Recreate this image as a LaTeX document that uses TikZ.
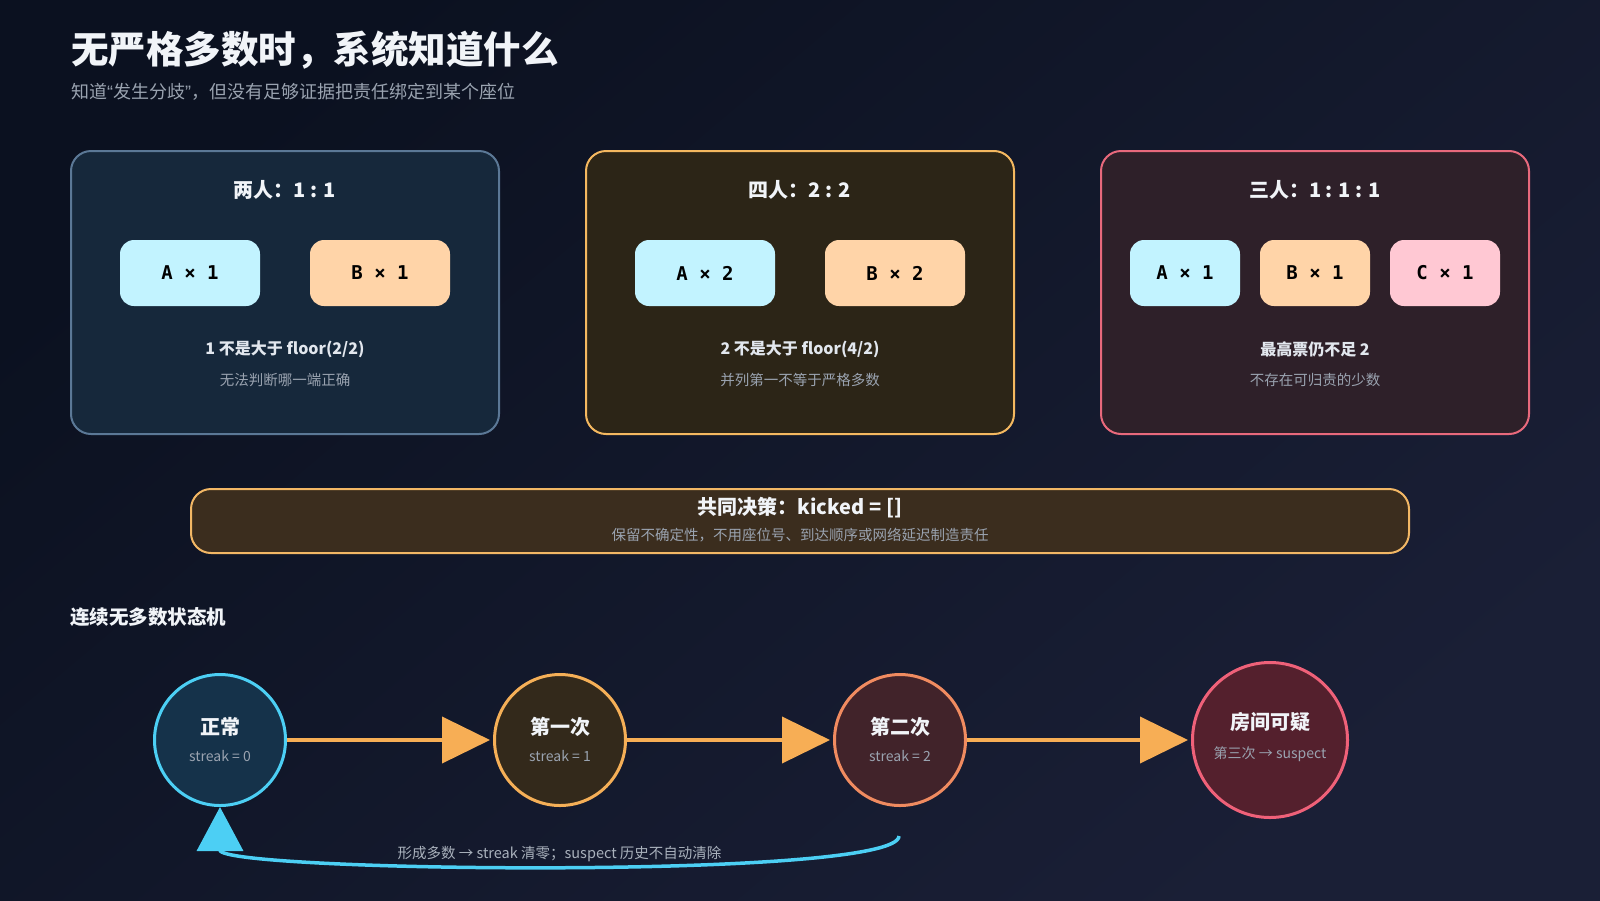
\documentclass[tikz,border=0pt]{standalone}
\usepackage{fontspec}
\setmainfont{Noto Sans CJK SC}
\setmonofont{DejaVu Sans Mono}
\newfontfamily\latinfont{Liberation Sans}
\usetikzlibrary{arrows.meta}

\definecolor{bgtop}{HTML}{0B1120}
\definecolor{bgbot}{HTML}{1A1F36}
\definecolor{pairfill}{HTML}{16283B}
\definecolor{pairline}{HTML}{5B7896}
\definecolor{quadfill}{HTML}{2C2517}
\definecolor{quadline}{HTML}{F4B860}
\definecolor{trifill}{HTML}{2E2029}
\definecolor{triline}{HTML}{E8697C}
\definecolor{chipA}{HTML}{C2F3FF}
\definecolor{chipB}{HTML}{FFD4A8}
\definecolor{chipC}{HTML}{FFC8D3}
\definecolor{barfill}{HTML}{3B2D1E}
\definecolor{barline}{HTML}{F2B765}
\definecolor{txt}{HTML}{F1F4F8}
\definecolor{soft}{HTML}{E2E7EE}
\definecolor{muted}{HTML}{9AA3B0}
\definecolor{fillA}{HTML}{15324A}
\definecolor{lineA}{HTML}{4CCFF4}
\definecolor{fillB}{HTML}{33291B}
\definecolor{lineB}{HTML}{F5AF57}
\definecolor{fillC}{HTML}{41232A}
\definecolor{lineC}{HTML}{F08B60}
\definecolor{fillD}{HTML}{54202D}
\definecolor{lineD}{HTML}{EF6179}
\definecolor{flowcol}{HTML}{F7AE55}

\tikzset{
  txtnode/.style={inner sep=0pt, text=txt},
  headline/.style={txtnode, anchor=west, font=\fontsize{37.5}{40}\selectfont\bfseries},
  subhead/.style={txtnode, anchor=west, text=muted, font=\fontsize{18}{20}\selectfont},
  card/.style={line width=2pt, rounded corners=20pt, minimum width=428pt, minimum height=283pt},
  cardtitle/.style={txtnode, font=\fontsize{20}{22}\selectfont\bfseries},
  chip/.style={rounded corners=14pt, minimum width=140pt, minimum height=66pt, text=black,
    font=\fontsize{19}{21}\ttfamily\bfseries},
  verdict/.style={txtnode, text=soft, font=\fontsize{16}{18}\selectfont\bfseries},
  reason/.style={txtnode, text=muted, font=\fontsize{14.5}{16}\selectfont},
  decision/.style={fill=barfill, draw=barline, line width=2pt, rounded corners=20pt,
    minimum width=1218pt, minimum height=64pt},
  state/.style={circle, line width=3pt, minimum size=131pt},
  stitle/.style={txtnode, font=\fontsize{20}{22}\selectfont\bfseries},
  ssub/.style={txtnode, text=muted, font=\fontsize{14}{16}\selectfont},
  flow/.style={draw=flowcol, line width=4pt, -{Triangle[length=48pt,width=46pt]}, shorten >=3pt},
  backflow/.style={draw=lineA, line width=3.5pt, -{Triangle[length=44pt,width=46pt]}},
  note/.style={txtnode, text=muted!85, font=\fontsize{14.5}{16}\selectfont}
}

\begin{document}
\begin{tikzpicture}[x=1pt,y=-1pt]
  \useasboundingbox (0,0) rectangle (1600,900);
  \shade[top color=bgtop, bottom color=bgbot, shading angle=40] (0,0) rectangle (1600,900);

  \node[headline] (title) at (71,50) {无严格多数时，系统知道什么};
  \node[subhead] (subtitle) at (71,92) {知道{\latinfont “}发生分歧{\latinfont ”}，但没有足够证据把责任绑定到某个座位};

  \node[card, fill=pairfill, draw=pairline] (pairCard) at (285,292.5) {};
  \node[card, fill=quadfill, draw=quadline] (quadCard) at (800,292.5) {};
  \node[card, fill=trifill, draw=triline] (triCard) at (1315,292.5) {};

  \node[cardtitle] (pairTitle) at (285,190) {两人：1 : 1};
  \node[cardtitle] (quadTitle) at (800,190) {四人：2 : 2};
  \node[cardtitle] (triTitle) at (1315,190) {三人：1 : 1 : 1};

  \foreach \n/\x/\c/\t in {pa/190/chipA/A × 1, pb/380/chipB/B × 1, qa/705/chipA/A × 2, qb/895/chipB/B × 2}
    \node[chip, fill=\c] (\n) at (\x,273) {\t};
  \foreach \n/\x/\c/\t in {ta/1185/chipA/A × 1, tb/1315/chipB/B × 1, tc/1445/chipC/C × 1}
    \node[chip, fill=\c, minimum width=110pt] (\n) at (\x,273) {\t};

  \foreach \n/\x/\a/\b in {pair/285/{1 不是大于 floor(2/2)}/无法判断哪一端正确,
      quad/800/{2 不是大于 floor(4/2)}/并列第一不等于严格多数,
      tri/1315/最高票仍不足 2/不存在可归责的少数} {
    \node[verdict] (\n Verdict) at (\x,349) {\a};
    \node[reason] (\n Reason) at (\x,380) {\b};
  }

  \node[decision] (decision) at (800,521) {};
  \node[cardtitle] (decisionTitle) at (800,508) {共同决策：kicked = []};
  \node[reason] (decisionSub) at (800,535) {保留不确定性，不用座位号、到达顺序或网络延迟制造责任};

  \node[txtnode, anchor=west, font=\fontsize{19.5}{22}\selectfont\bfseries] (machine) at (70,617) {连续无多数状态机};

  \foreach \n/\x/\f/\d in {s0/220/fillA/lineA, s1/560/fillB/lineB, s2/900/fillC/lineC}
    \node[state, fill=\f, draw=\d] (\n) at (\x,740) {};
  \node[state, fill=fillD, draw=lineD, minimum size=155pt] (s3) at (1270,740) {};

  \foreach \n/\x/\t/\s in {s0/220/正常/{streak = 0}, s1/560/第一次/{streak = 1}, s2/900/第二次/{streak = 2}} {
    \node[stitle] (\n-title) at (\x,727) {\t};
    \node[ssub] (\n-sub) at (\x,756) {\s};
  }
  \node[stitle] (s3-title) at (1270,722) {房间可疑};
  \node[ssub] (s3-sub) at (1270,754) {第三次 → suspect};

  \foreach \a/\b in {s0/s1, s1/s2, s2/s3}
    \draw[flow] (\a) -- (\b);

  \coordinate (back) at (899,836);
  \draw[backflow] (back) .. controls (899,880) and (220,872) .. (s0.south)
    node[note, pos=0.5, yshift=8pt] (resetNote) {形成多数 → streak 清零；suspect 历史不自动清除};
\end{tikzpicture}
\end{document}
